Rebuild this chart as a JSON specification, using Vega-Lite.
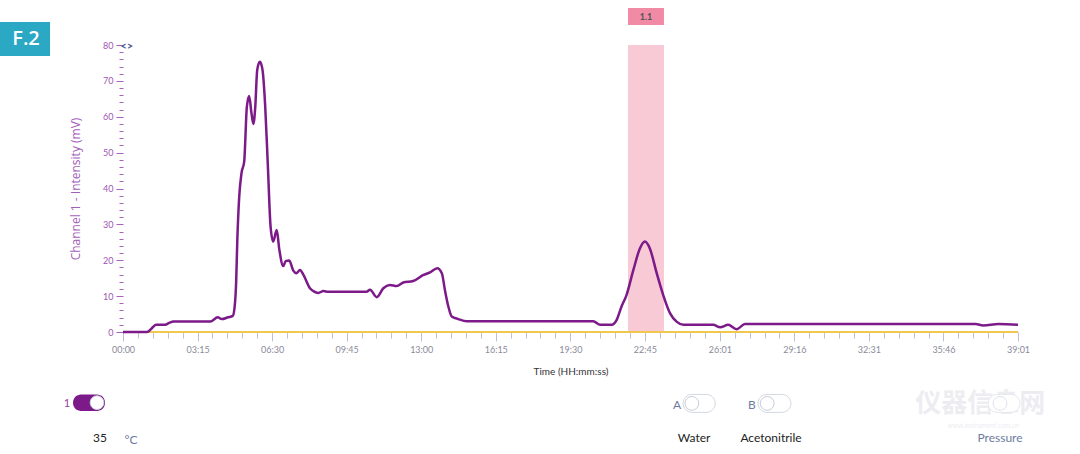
{
  "$schema": "https://vega.github.io/schema/vega-lite/v6.json",
  "width": 895,
  "height": 287,
  "autosize": {"type": "none"},
  "padding": {"left": 123, "top": 45, "right": 62, "bottom": 122},
  "background": "white",
  "config": {"view": {"stroke": null}, "font": "Lato"},
  "datasets": {
    "ch1": [
      {"t": 0, "v": 0}, {"t": 63, "v": 0}, {"t": 75, "v": 1.0}, {"t": 86, "v": 2.0}, {"t": 110, "v": 2.0},
      {"t": 122, "v": 2.6}, {"t": 132, "v": 2.9}, {"t": 228, "v": 2.9}, {"t": 248, "v": 4.1}, {"t": 258, "v": 3.6},
      {"t": 275, "v": 4.1}, {"t": 287, "v": 4.5}, {"t": 292, "v": 7}, {"t": 296, "v": 14}, {"t": 299, "v": 25.6},
      {"t": 304, "v": 37.7}, {"t": 310, "v": 44.3}, {"t": 317, "v": 47.5}, {"t": 324, "v": 62.8}, {"t": 330, "v": 65.8},
      {"t": 336, "v": 61.0}, {"t": 341, "v": 58.0}, {"t": 346, "v": 62.8}, {"t": 351, "v": 73.0}, {"t": 358, "v": 75.3},
      {"t": 365, "v": 73.0}, {"t": 372, "v": 62.8}, {"t": 379, "v": 46.1}, {"t": 386, "v": 29.4}, {"t": 393, "v": 25.2},
      {"t": 402, "v": 28.4}, {"t": 409, "v": 22.9}, {"t": 419, "v": 18.4}, {"t": 426, "v": 19.8}, {"t": 435, "v": 19.9},
      {"t": 445, "v": 17.2}, {"t": 454, "v": 16.4}, {"t": 463, "v": 17.3}, {"t": 472, "v": 15.9}, {"t": 489, "v": 12.2},
      {"t": 498, "v": 11.4}, {"t": 511, "v": 10.9}, {"t": 524, "v": 11.4}, {"t": 537, "v": 11.2}, {"t": 637, "v": 11.2},
      {"t": 646, "v": 11.8}, {"t": 664, "v": 9.7}, {"t": 681, "v": 12.2}, {"t": 698, "v": 13.1}, {"t": 716, "v": 12.8},
      {"t": 733, "v": 13.8}, {"t": 759, "v": 14.2}, {"t": 786, "v": 15.9}, {"t": 803, "v": 16.6}, {"t": 822, "v": 17.8},
      {"t": 834, "v": 16.4}, {"t": 842, "v": 11.7}, {"t": 851, "v": 7.1}, {"t": 860, "v": 4.3}, {"t": 877, "v": 3.6},
      {"t": 899, "v": 3.0}, {"t": 1195, "v": 3.0}, {"t": 1230, "v": 3.0}, {"t": 1248, "v": 2.0}, {"t": 1278, "v": 2.0},
      {"t": 1291, "v": 3.3}, {"t": 1304, "v": 7.1}, {"t": 1317, "v": 10.3}, {"t": 1335, "v": 17.3}, {"t": 1352, "v": 23.3},
      {"t": 1365, "v": 25.2}, {"t": 1378, "v": 23.3}, {"t": 1396, "v": 16.4}, {"t": 1413, "v": 10.3}, {"t": 1431, "v": 5.2},
      {"t": 1448, "v": 2.9}, {"t": 1466, "v": 2.0}, {"t": 1544, "v": 2.0}, {"t": 1562, "v": 1.3}, {"t": 1583, "v": 2.0},
      {"t": 1605, "v": 0.8}, {"t": 1627, "v": 2.2}, {"t": 2230, "v": 2.2}, {"t": 2250, "v": 1.8}, {"t": 2290, "v": 2.2},
      {"t": 2341, "v": 2.0}
    ],
    "base": [{"t": 0, "v": 0}, {"t": 2341, "v": 0}]
  },
  "layer": [
    {
      "data": {"values": [{"t": 1321, "t2": 1415, "v": 0, "v2": 80}]},
      "mark": {"type": "rect", "color": "#f7cad6"},
      "encoding": {
        "x": {"field": "t", "type": "quantitative", "scale": {"domain": [0, 2341], "nice": false, "zero": false},
          "axis": {
            "title": "Time (HH:mm:ss)",
            "values": [0, 39, 78, 117, 156, 195, 234, 273, 312, 351, 390, 429, 468, 507, 546, 585, 624, 663, 702, 741, 780, 819, 858, 897, 936, 975, 1014, 1053, 1092, 1131, 1170, 1209, 1248, 1287, 1326, 1365, 1404, 1443, 1483, 1522, 1561, 1600, 1639, 1678, 1717, 1756, 1795, 1834, 1873, 1912, 1951, 1990, 2029, 2068, 2107, 2146, 2185, 2224, 2263, 2302, 2341],
            "tickCount": 200,
            "labelExpr": "indexof([0,195,390,585,780,975,1170,1365,1561,1756,1951,2146,2341], datum.value) >= 0 ? utcFormat(datum.value * 1000, '%M:%S') : ''",
            "tickSize": {"condition": {"test": "indexof([0,195,390,585,780,975,1170,1365,1561,1756,1951,2146,2341], datum.value) >= 0", "value": 9}, "value": 6},
            "labelOverlap": false,
            "tickColor": "#b9c2d9",
            "domainColor": "#c8cde0",
            "grid": false,
            "labelColor": "#8a8a9a",
            "labelFontSize": 9,
            "labelPadding": 4,
            "labelFlush": false,
            "titleColor": "#333333",
            "titleFontSize": 10,
            "titleFontWeight": "normal",
            "titlePadding": 12
          }},
        "x2": {"field": "t2"},
        "y": {"field": "v", "type": "quantitative", "scale": {"domain": [0, 80], "nice": false},
          "axis": {
            "title": "Channel 1 - Intensity (mV)",
            "values": [0, 2, 4, 6, 8, 10, 12, 14, 16, 18, 20, 22, 24, 26, 28, 30, 32, 34, 36, 38, 40, 42, 44, 46, 48, 50, 52, 54, 56, 58, 60, 62, 64, 66, 68, 70, 72, 74, 76, 78, 80],
            "tickCount": 200,
            "format": "d",
            "labelExpr": "datum.value % 10 === 0 ? datum.label : ''",
            "tickSize": {"condition": {"test": "datum.value % 10 === 0", "value": 7}, "value": 4},
            "labelOverlap": false,
            "tickColor": "#a862bb",
            "domain": false,
            "grid": false,
            "labelColor": "#a055b5",
            "labelFontSize": 9,
            "labelPadding": 3,
            "labelFlush": false,
            "titleColor": "#a35fb8",
            "titleFont": "Open Sans",
            "titleFontSize": 12,
            "titleFontWeight": "normal",
            "titlePadding": 20
          }},
        "y2": {"field": "v2"}
      }
    },
    {
      "data": {"values": [{"t": 1321, "t2": 1415, "v": 85.6, "v2": 90.3}]},
      "mark": {"type": "rect", "color": "#f08aa5", "clip": false},
      "encoding": {
        "x": {"field": "t", "type": "quantitative"}, "x2": {"field": "t2"},
        "y": {"field": "v", "type": "quantitative"}, "y2": {"field": "v2"}
      }
    },
    {
      "data": {"values": [{"t": 1368, "v": 87.9, "label": "1.1"}]},
      "mark": {"type": "text", "color": "#555555", "fontSize": 9, "fontWeight": "bold", "clip": false},
      "encoding": {"x": {"field": "t", "type": "quantitative"}, "y": {"field": "v", "type": "quantitative"}, "text": {"field": "label"}}
    },
    {
      "mark": {"type": "rule", "color": "#8a2f9a", "strokeWidth": 1.2},
      "encoding": {"y": {"datum": 10}}
    },
    {
      "data": {"name": "base"},
      "mark": {"type": "line", "color": "#f0c850", "strokeWidth": 2},
      "encoding": {"x": {"field": "t", "type": "quantitative"}, "y": {"field": "v", "type": "quantitative"}}
    },
    {
      "data": {"name": "ch1"},
      "mark": {"type": "line", "color": "#7b1a88", "strokeWidth": 2.5, "interpolate": "monotone", "clip": false},
      "encoding": {"x": {"field": "t", "type": "quantitative"}, "y": {"field": "v", "type": "quantitative"}}
    },
    {
      "data": {"values": [{"t": -321.7, "t2": -190.9, "v": 86.4, "v2": 76.9}]},
      "mark": {"type": "rect", "color": "#2aa8c4", "clip": false},
      "encoding": {
        "x": {"field": "t", "type": "quantitative"}, "x2": {"field": "t2"},
        "y": {"field": "v", "type": "quantitative"}, "y2": {"field": "v2"}
      }
    },
    {
      "data": {"values": [{"t": -253.7, "v": 81.6, "label": "F.2"}]},
      "mark": {"type": "text", "color": "white", "fontSize": 20, "fontWeight": 600, "font": "Open Sans", "clip": false},
      "encoding": {"x": {"field": "t", "type": "quantitative"}, "y": {"field": "v", "type": "quantitative"}, "text": {"field": "label"}}
    },
    {
      "data": {"values": [{"t": 10, "v": 79.4, "label": "<>"}]},
      "mark": {"type": "text", "color": "#4b5b95", "fontSize": 11, "fontWeight": "bold", "clip": false},
      "encoding": {"x": {"field": "t", "type": "quantitative"}, "y": {"field": "v", "type": "quantitative"}, "text": {"field": "label"}}
    },
    {
      "data": {"values": [{"t": 2242, "v": -20.2, "label": "仪器信息网"}]},
      "mark": {"type": "text", "color": "#ededf1", "fontSize": 26, "fontWeight": "bold", "font": "Noto Sans CJK SC", "clip": false},
      "encoding": {"x": {"field": "t", "type": "quantitative"}, "y": {"field": "v", "type": "quantitative"}, "text": {"field": "label"}}
    },
    {
      "data": {"values": [{"t": 2250, "v": -26.3, "label": "www.instrument.com.cn"}]},
      "mark": {"type": "text", "color": "#ededf1", "fontSize": 7, "fontStyle": "italic", "clip": false},
      "encoding": {"x": {"field": "t", "type": "quantitative"}, "y": {"field": "v", "type": "quantitative"}, "text": {"field": "label"}}
    },
    {
      "data": {"values": [{"t": -130.8, "t2": -47.1, "v": -17.4, "v2": -22.0}]},
      "mark": {"type": "rect", "color": "#7b1a88", "cornerRadius": 8, "clip": false},
      "encoding": {
        "x": {"field": "t", "type": "quantitative"}, "x2": {"field": "t2"},
        "y": {"field": "v", "type": "quantitative"}, "y2": {"field": "v2"}
      }
    },
    {
      "data": {"values": [
        {"t": 1465, "t2": 1549, "v": -17.4, "v2": -22.4},
        {"t": 1661, "t2": 1747, "v": -17.4, "v2": -22.4}
      ]},
      "mark": {"type": "rect", "fill": "#ffffff", "stroke": "#d3d7e2", "strokeWidth": 1, "cornerRadius": 9, "clip": false},
      "encoding": {
        "x": {"field": "t", "type": "quantitative"}, "x2": {"field": "t2"},
        "y": {"field": "v", "type": "quantitative"}, "y2": {"field": "v2"}
      }
    },
    {
      "data": {"values": [{"t": 2263, "t2": 2346, "v": -17.4, "v2": -22.4}]},
      "mark": {"type": "rect", "fill": "#ffffff", "stroke": "#e6e8ee", "strokeWidth": 1, "cornerRadius": 9, "clip": false},
      "encoding": {
        "x": {"field": "t", "type": "quantitative"}, "x2": {"field": "t2"},
        "y": {"field": "v", "type": "quantitative"}, "y2": {"field": "v2"}
      }
    },
    {
      "data": {"values": [{"t": -68, "v": -19.7}, {"t": 1488, "v": -19.9}, {"t": 1685, "v": -19.9}]},
      "mark": {"type": "point", "shape": "circle", "filled": true, "fill": "#ffffff", "stroke": "#c8ccd8", "strokeWidth": 1, "size": 190, "opacity": 1, "clip": false},
      "encoding": {"x": {"field": "t", "type": "quantitative"}, "y": {"field": "v", "type": "quantitative"}}
    },
    {
      "data": {"values": [{"t": 2294, "v": -19.9}]},
      "mark": {"type": "point", "shape": "circle", "filled": true, "fill": "#ffffff", "stroke": "#dfe2ea", "strokeWidth": 1, "size": 190, "opacity": 1, "clip": false},
      "encoding": {"x": {"field": "t", "type": "quantitative"}, "y": {"field": "v", "type": "quantitative"}}
    },
    {
      "data": {"values": [{"t": -146.5, "v": -20.1, "label": "1"}]},
      "mark": {"type": "text", "color": "#8d3fa0", "fontSize": 11, "clip": false},
      "encoding": {"x": {"field": "t", "type": "quantitative"}, "y": {"field": "v", "type": "quantitative"}, "text": {"field": "label"}}
    },
    {
      "data": {"values": [
        {"t": -60, "v": -29.6, "label": "35"},
        {"t": 1494, "v": -29.6, "label": "Water"},
        {"t": 1695, "v": -29.6, "label": "Acetonitrile"}
      ]},
      "mark": {"type": "text", "color": "#222222", "fontSize": 12, "clip": false},
      "encoding": {"x": {"field": "t", "type": "quantitative"}, "y": {"field": "v", "type": "quantitative"}, "text": {"field": "label"}}
    },
    {
      "data": {"values": [
        {"t": 21, "v": -30, "label": "°C"},
        {"t": 1449, "v": -20.3, "label": "A"},
        {"t": 1645, "v": -20.3, "label": "B"},
        {"t": 2294, "v": -29.6, "label": "Pressure"}
      ]},
      "mark": {"type": "text", "color": "#6d7ba0", "fontSize": 12, "clip": false},
      "encoding": {"x": {"field": "t", "type": "quantitative"}, "y": {"field": "v", "type": "quantitative"}, "text": {"field": "label"}}
    }
  ]
}
